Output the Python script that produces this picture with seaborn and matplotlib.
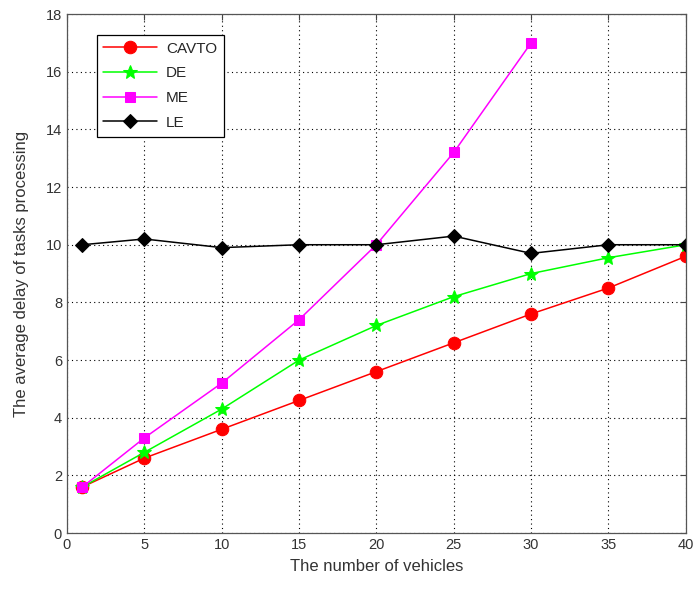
import pandas as pd
import matplotlib.pyplot as plt
import seaborn as sns

# --- Data ---
vehicles = [1, 5, 10, 15, 20, 25, 30, 35, 40]
cavto = [1.6, 2.6, 3.6, 4.6, 5.6, 6.6, 7.6, 8.5, 9.6]
de = [1.6, 2.8, 4.3, 6.0, 7.2, 8.2, 9.0, 9.55, 10.0]
me_vehicles = [1, 5, 10, 15, 20, 25, 30]
me = [1.6, 3.3, 5.2, 7.4, 10.0, 13.2, 17.0]
le = [10.0, 10.2, 9.9, 10.0, 10.0, 10.3, 9.7, 10.0, 10.0]

methods = ['CAVTO', 'DE', 'ME', 'LE']
colors = {'CAVTO': '#ff0000', 'DE': '#00ff00', 'ME': '#ff00ff', 'LE': '#000000'}
markers = {'CAVTO': 'o', 'DE': '*', 'ME': 's', 'LE': 'D'}
marker_sizes = {'CAVTO': 9, 'DE': 10, 'ME': 7.5, 'LE': 7.5}

frames = [
    pd.DataFrame({'x': vehicles, 'y': cavto, 'method': 'CAVTO'}),
    pd.DataFrame({'x': vehicles, 'y': de, 'method': 'DE'}),
    pd.DataFrame({'x': me_vehicles, 'y': me, 'method': 'ME'}),
    pd.DataFrame({'x': vehicles, 'y': le, 'method': 'LE'}),
]
df = pd.concat(frames, ignore_index=True)

# --- Plot ---
sns.set_style('white')
plt.rcParams['font.family'] = ['Liberation Sans', 'DejaVu Sans']

fig = plt.figure(figsize=(6.97, 5.97), dpi=100)
ax = fig.add_axes([0.096, 0.107, 0.888, 0.8695])

for m in methods:
    sub = df[df['method'] == m]
    sns.lineplot(data=sub, x='x', y='y', ax=ax, color=colors[m],
                 marker=markers[m], markersize=marker_sizes[m],
                 markeredgecolor=colors[m], linewidth=1.1, label=m)

ax.set_xlim(0, 40)
ax.set_ylim(0, 18)
ax.set_xticks(range(0, 41, 5))
ax.set_yticks(range(0, 19, 2))
ax.grid(True, linestyle=(0, (1, 3)), color='black', linewidth=0.8)
ax.tick_params(direction='in', top=True, right=True, labelsize=10.5, length=4,
               color='#444444', labelcolor='#333333')
for s in ax.spines.values():
    s.set_color('#555555')
    s.set_linewidth(0.9)

ax.set_xlabel('The number of vehicles', fontsize=12, color='#333333', labelpad=5)
ax.set_ylabel('The average delay of tasks processing', fontsize=12, color='#333333',
              labelpad=12)

leg = ax.legend(loc='upper left', bbox_to_anchor=(0.048, 0.96), borderaxespad=0,
                fancybox=False, edgecolor='black', framealpha=1, fontsize=11,
                handlelength=3.5, labelspacing=0.7, borderpad=0.45,
                handletextpad=0.6)
leg.get_frame().set_linewidth(0.9)

fig.savefig('out.png', dpi=100)
